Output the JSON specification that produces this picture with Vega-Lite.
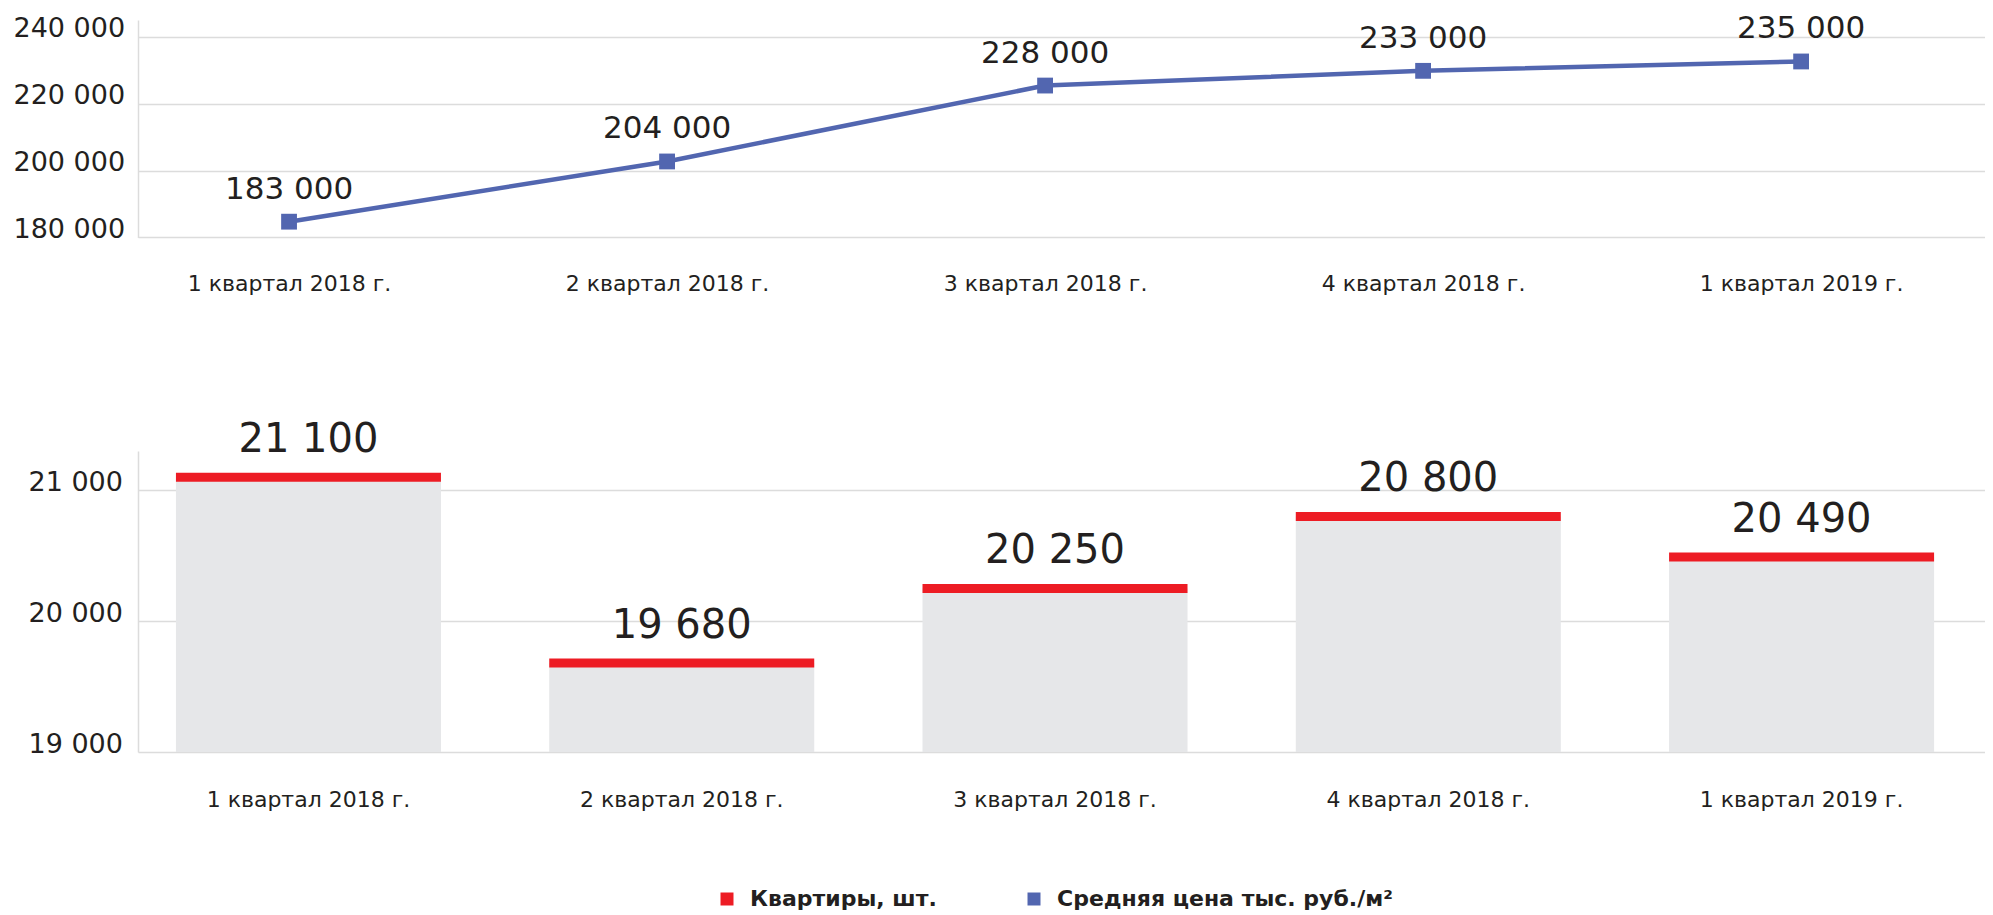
{
  "$schema": "https://vega.github.io/schema/vega-lite/v6.json",
  "background": "white",
  "padding": {"left": 13, "top": 13, "right": 0, "bottom": 0},
  "bounds": "flush",
  "spacing": 213,
  "config": {
    "view": {"stroke": null},
    "font": "DejaVu Sans",
    "axis": {
      "labelFont": "DejaVu Sans",
      "labelColor": "#231f20",
      "ticks": false,
      "title": null,
      "gridColor": "#dcdcdc",
      "gridWidth": 1.5,
      "domainColor": "#dcdcdc",
      "domainWidth": 1.5,
      "labelLimit": 400
    }
  },
  "datasets": {
    "price": [
      {"q": "1 квартал 2018 г.", "value": 184700, "label": "183 000"},
      {"q": "2 квартал 2018 г.", "value": 202700, "label": "204 000"},
      {"q": "3 квартал 2018 г.", "value": 225400, "label": "228 000"},
      {"q": "4 квартал 2018 г.", "value": 229800, "label": "233 000"},
      {"q": "1 квартал 2019 г.", "value": 232600, "label": "235 000"}
    ],
    "flats": [
      {"q": "1 квартал 2018 г.", "value": 21100, "label": "21 100"},
      {"q": "2 квартал 2018 г.", "value": 19680, "label": "19 680"},
      {"q": "3 квартал 2018 г.", "value": 20250, "label": "20 250"},
      {"q": "4 квартал 2018 г.", "value": 20800, "label": "20 800"},
      {"q": "1 квартал 2019 г.", "value": 20490, "label": "20 490"}
    ]
  },
  "vconcat": [
    {
      "width": 1847,
      "height": 217.4,
      "data": {"name": "price"},
      "encoding": {
        "x": {
          "field": "q", "type": "ordinal", "sort": null,
          "scale": {"type": "point", "padding": 0.443, "align": 0.451},
          "axis": {"labelPadding": 36, "labelFontSize": 22, "domain": false, "grid": false, "labelAngle": 0}
        },
        "y": {
          "field": "value", "type": "quantitative",
          "scale": {"domain": [180000, 245000], "nice": false, "zero": false},
          "axis": {
            "values": [180000, 200000, 220000, 240000],
            "labelExpr": "replace(format(datum.value, ','), ',', ' ')",
            "labelAlign": "left", "labelPadding": 125, "labelBaseline": "alphabetic",
            "labelFontSize": 27, "grid": true, "domain": true
          }
        }
      },
      "layer": [
        {"mark": {"type": "line", "color": "#5266b0", "strokeWidth": 4.5}, "encoding": {}},
        {
          "mark": {"type": "point", "shape": "square", "filled": true, "size": 250, "opacity": 1},
          "encoding": {
            "color": {
              "datum": "Средняя цена тыс. руб./м²",
              "scale": {"domain": ["Квартиры, шт.", "Средняя цена тыс. руб./м²"], "range": ["#ed1c24", "#5266b0"]},
              "legend": {
                "orient": "none", "legendX": 578, "legendY": 868, "direction": "horizontal",
                "title": null, "symbolType": "square", "symbolSize": 169, "symbolStrokeWidth": 0,
                "symbolOpacity": 1, "labelFont": "DejaVu Sans", "labelFontWeight": "bold",
                "labelFontSize": 22, "labelColor": "#231f20", "labelOffset": 12, "columnPadding": 86,
                "padding": 0, "labelLimit": 600
              }
            }
          }
        },
        {
          "mark": {"type": "text", "fontSize": 31, "dy": -32, "baseline": "middle", "color": "#231f20"},
          "encoding": {"text": {"field": "label"}}
        }
      ]
    },
    {
      "width": 1847,
      "height": 301,
      "data": {"name": "flats"},
      "encoding": {
        "x": {
          "field": "q", "type": "ordinal", "sort": null,
          "scale": {"type": "band", "paddingInner": 0.29, "paddingOuter": 0.119, "align": 0.427},
          "axis": {"labelPadding": 37, "labelFontSize": 22, "domain": false, "grid": false, "labelAngle": 0}
        },
        "y": {
          "field": "value", "type": "quantitative",
          "scale": {"domain": [19000, 21300], "nice": false, "zero": false},
          "axis": {
            "values": [19000, 20000, 21000],
            "labelExpr": "replace(format(datum.value, ','), ',', ' ')",
            "labelAlign": "left", "labelPadding": 110, "labelBaseline": "alphabetic",
            "labelFontSize": 27, "grid": true, "domain": true
          }
        }
      },
      "layer": [
        {"mark": {"type": "bar", "color": "#e6e7e9"}, "encoding": {"y2": {"datum": 19000}}},
        {
          "mark": {"type": "tick", "thickness": 9, "size": 265, "opacity": 1, "orient": "horizontal"},
          "encoding": {"color": {"datum": "Квартиры, шт."}}
        },
        {
          "mark": {"type": "text", "fontSize": 40, "dy": -37, "baseline": "middle", "color": "#231f20"},
          "encoding": {"text": {"field": "label"}}
        }
      ]
    }
  ],
  "resolve": {"scale": {"color": "shared"}, "legend": {"color": "shared"}}
}
